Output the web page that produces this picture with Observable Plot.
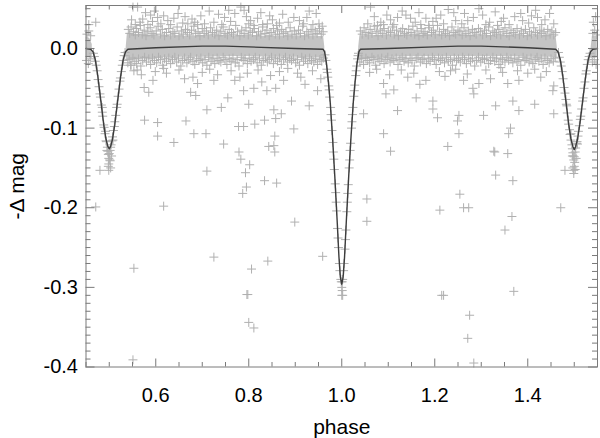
<!DOCTYPE html>
<html><head><meta charset="utf-8">
<script src="https://cdn.jsdelivr.net/npm/d3@7"></script>
<script src="https://cdn.jsdelivr.net/npm/@observablehq/plot@0.6"></script>
<style>html,body{margin:0;padding:0;background:#fff;}</style>
</head><body><div id="chart"></div>
<script>
// ---- model light curve (phase, -Δmag) ----
const modelPhase = [0.450,0.460,0.465,0.470,0.475,0.482,0.488,0.493,0.497,0.500,0.503,0.507,0.512,0.518,0.525,0.530,0.535,0.540,
  0.60,0.70,0.75,0.80,0.90,0.960,0.963,0.967,0.971,0.975,0.980,0.985,0.990,0.994,0.997,1.000,1.003,1.006,1.010,1.015,1.020,1.025,1.029,1.033,1.037,1.040,
  1.10,1.20,1.25,1.30,1.40,1.460,1.465,1.470,1.475,1.482,1.488,1.493,1.497,1.500,1.503,1.507,1.512,1.518,1.525,1.530,1.535,1.540,1.55];
const modelMag = [0.000,-0.001,-0.004,-0.014,-0.033,-0.066,-0.095,-0.114,-0.123,-0.126,-0.123,-0.114,-0.095,-0.066,-0.033,-0.014,-0.004,-0.001,
  0.001,0.003,0.003,0.002,0.000,-0.001,-0.004,-0.018,-0.040,-0.066,-0.110,-0.160,-0.215,-0.262,-0.287,-0.296,-0.287,-0.262,-0.215,-0.160,-0.110,-0.066,-0.040,-0.018,-0.004,-0.001,
  0.000,0.002,0.003,0.003,0.001,-0.001,-0.004,-0.014,-0.033,-0.066,-0.095,-0.114,-0.123,-0.127,-0.123,-0.114,-0.095,-0.066,-0.033,-0.014,-0.004,-0.001,0.000];

// ---- dense core of the observations (envelope) ----
const bandSeg   = [1,1,1, 2,2,2,2,2,2,2,2,2,2,2,2,2, 3,3,3,3,3,3,3,3,3,3,3,3, 4,4,4];
const bandPhase = [0.4505,0.458,0.4635, 0.5365,0.539,0.55,0.60,0.65,0.70,0.75,0.80,0.85,0.90,0.95,0.961,0.9635,
  1.0365,1.039,1.10,1.15,1.20,1.25,1.30,1.35,1.40,1.45,1.461,1.4635, 1.5365,1.539,1.5495];
const bandHi = [0.014,0.013,0.005, 0.002,0.019,0.018,0.016,0.015,0.016,0.016,0.016,0.015,0.015,0.015,0.015,0.002,
  0.002,0.016,0.016,0.017,0.017,0.017,0.016,0.016,0.016,0.016,0.015,0.002, 0.002,0.015,0.015];
const bandLo = [-0.012,-0.012,-0.013, -0.016,-0.016,-0.014,-0.012,-0.011,-0.011,-0.010,-0.010,-0.011,-0.011,-0.012,-0.013,-0.011,
  -0.011,-0.014,-0.011,-0.010,-0.010,-0.010,-0.010,-0.010,-0.011,-0.011,-0.012,-0.011, -0.013,-0.013,-0.012];

// ---- individual observations, [phase*1000, mag*1000] ----
const eclipsePts = [[964,-8],[966,-15],[968,-26],[969,-30],[970,-36],[972,-47],[973,-52],[974,-61],[976,-74],[977,-83],[978,-90],[979,-103],[981,-118],[982,-130],[983,-139],[984,-152],[986,-170],[987,-181],[988,-193],[989,-204],[991,-226],[992,-238],[993,-250],[995,-270],[996,-279],[998,-290],[999,-293],[1000,-300],[1001,-304],[1000,-310],[1001,-293],[1002,-290],[1004,-279],[1005,-270],[1007,-252],[1008,-240],[1009,-228],[1011,-205],[1012,-193],[1013,-182],[1014,-171],[1016,-150],[1017,-140],[1018,-128],[1019,-119],[1021,-100],[1022,-92],[1023,-83],[1024,-74],[1026,-60],[1027,-53],[1028,-46],[1030,-34],[1031,-28],[1032,-22],[1034,-13],[1035,-9],[1036,-6],
  [466,-6],[468,-10],[470,-16],[472,-21],[474,-28],[476,-39],[478,-48],[480,-57],[481,-61],[483,-71],[485,-80],[486,-85],[488,-96],[489,-99],[491,-107],[493,-116],[494,-117],[496,-124],[497,-129],[498,-133],[499,-138],[500,-132],[501,-140],[499,-145],[502,-128],[503,-124],[504,-121],[506,-116],[507,-111],[509,-103],[511,-98],[512,-92],[514,-84],[516,-74],[517,-70],[519,-60],[521,-51],[523,-41],[524,-37],[526,-29],[528,-21],[530,-15],[532,-9],[534,-5],[492,-104],[508,-115],[485,-74],[505,-135],[498,-148],[503,-150],[495,-128],[502,-141],
  [1466,-5],[1468,-11],[1470,-17],[1472,-22],[1474,-29],[1476,-38],[1478,-49],[1480,-56],[1482,-64],[1483,-70],[1485,-81],[1487,-90],[1488,-95],[1490,-102],[1491,-108],[1493,-115],[1495,-121],[1496,-126],[1497,-131],[1498,-135],[1499,-140],[1500,-136],[1501,-143],[1500,-148],[1502,-130],[1503,-125],[1505,-119],[1506,-117],[1508,-110],[1509,-104],[1511,-97],[1513,-89],[1514,-85],[1516,-76],[1518,-66],[1519,-62],[1521,-50],[1523,-42],[1525,-32],[1526,-28],[1528,-20],[1530,-14],[1532,-10],[1534,-6],[1493,-107],[1507,-120],[1484,-72],[1504,-138],[1497,-150],[1502,-152],[1496,-135],[1499,-157]];

const edgeUpper = [[452,18],[456,22],[460,16],[541,24],[544,19],[547,27],[552,21],[556,17],[559,25],[563,20],[567,29],[571,18],[575,23],[579,16],[583,21],[588,26],[592,19],[596,17],[601,22],[605,28],[610,18],[614,24],[619,16],[623,20],[628,25],[632,17],[637,21],[641,19],[646,27],[650,16],[655,22],[659,18],[664,24],[668,20],[673,17],[677,23],[682,28],[686,19],[691,21],[695,16],[700,25],[704,19],[709,22],[713,17],[718,26],[722,20],[727,18],[731,23],[736,16],[740,21],[745,27],[749,19],[754,17],[758,24],[763,20],[767,18],[772,29],[776,21],[781,16],[785,23],[790,19],[794,26],[799,17],[803,22],[808,20],[812,25],[817,16],[821,21],[826,18],[830,27],[835,19],[839,23],[844,16],[848,20],[853,25],[857,18],[862,22],[866,17],[871,24],[875,19],[880,21],[884,16],[889,26],[893,18],[898,22],[902,17],[907,23],[911,19],[916,28],[920,16],[925,21],[929,18],[934,24],[938,17],[943,22],[947,19],[952,25],[956,18],[960,21],
  [1040,22],[1044,18],[1048,26],[1052,20],[1057,17],[1061,24],[1065,19],[1070,28],[1074,21],[1078,16],[1083,23],[1087,19],[1091,25],[1096,17],[1100,22],[1105,20],[1109,27],[1113,18],[1118,23],[1122,16],[1127,21],[1131,25],[1135,19],[1140,17],[1144,24],[1149,20],[1153,28],[1157,18],[1162,22],[1166,16],[1171,25],[1175,19],[1179,21],[1184,17],[1188,26],[1193,20],[1197,23],[1201,18],[1206,29],[1210,21],[1215,17],[1219,24],[1223,19],[1228,22],[1232,16],[1237,27],[1241,20],[1245,18],[1250,23],[1254,21],[1259,17],[1263,26],[1267,19],[1272,22],[1276,16],[1281,24],[1285,20],[1289,18],[1294,25],[1298,21],[1303,17],[1307,23],[1311,19],[1316,27],[1320,16],[1325,22],[1329,20],[1333,18],[1338,24],[1342,17],[1347,21],[1351,26],[1355,19],[1360,16],[1364,23],[1369,20],[1373,18],[1377,25],[1382,17],[1386,22],[1391,19],[1395,24],[1399,16],[1404,21],[1408,18],[1413,26],[1417,20],[1421,17],[1426,23],[1430,19],[1435,21],[1439,16],[1443,24],[1448,18],[1452,22],[1456,17],[1460,20],[1540,19],[1544,23],[1548,17]];

const edgeLower = [[451,-15],[455,-19],[459,-13],[540,-18],[543,-14],[547,-21],[551,-12],[555,-16],[559,-19],[563,-13],[568,-22],[572,-15],[576,-11],[580,-17],[585,-13],[589,-20],[593,-12],[597,-15],[602,-18],[606,-11],[610,-14],[615,-21],[619,-13],[623,-16],[628,-12],[632,-19],[636,-14],[641,-11],[645,-17],[649,-13],[654,-22],[658,-15],[662,-12],[667,-18],[671,-14],[675,-11],[680,-16],[684,-20],[688,-13],[693,-15],[697,-12],[701,-18],[706,-14],[710,-21],[714,-11],[719,-16],[723,-13],[727,-19],[732,-12],[736,-15],[740,-17],[745,-11],[749,-14],[753,-20],[758,-13],[762,-16],[766,-12],[771,-18],[775,-14],[779,-22],[784,-11],[788,-15],[792,-13],[797,-19],[801,-12],[805,-16],[810,-14],[814,-11],[818,-18],[823,-13],[827,-21],[831,-15],[836,-12],[840,-17],[844,-14],[849,-11],[853,-19],[857,-13],[862,-16],[866,-12],[870,-20],[875,-14],[879,-11],[883,-17],[888,-13],[892,-15],[896,-12],[901,-18],[905,-14],[909,-21],[914,-11],[918,-16],[922,-13],[927,-19],[931,-12],[935,-15],[940,-17],[944,-13],[948,-20],[953,-14],[957,-16],[961,-12],
  [1039,-17],[1043,-13],[1047,-20],[1052,-12],[1056,-15],[1060,-18],[1065,-11],[1069,-14],[1073,-21],[1078,-13],[1082,-16],[1086,-12],[1091,-19],[1095,-14],[1099,-11],[1104,-17],[1108,-13],[1112,-15],[1117,-12],[1121,-20],[1125,-14],[1130,-11],[1134,-16],[1138,-13],[1143,-18],[1147,-12],[1151,-15],[1156,-22],[1160,-13],[1164,-11],[1169,-17],[1173,-14],[1177,-12],[1182,-19],[1186,-13],[1190,-16],[1195,-11],[1199,-14],[1203,-20],[1208,-12],[1212,-15],[1216,-13],[1221,-18],[1225,-11],[1229,-16],[1234,-14],[1238,-21],[1242,-12],[1247,-15],[1251,-13],[1255,-17],[1260,-11],[1264,-14],[1268,-19],[1273,-12],[1277,-16],[1281,-13],[1286,-22],[1290,-15],[1294,-11],[1299,-17],[1303,-13],[1307,-14],[1312,-12],[1316,-19],[1320,-15],[1325,-11],[1329,-16],[1333,-13],[1338,-20],[1342,-12],[1346,-14],[1351,-17],[1355,-11],[1359,-15],[1364,-13],[1368,-18],[1372,-12],[1377,-16],[1381,-14],[1385,-21],[1390,-11],[1394,-15],[1398,-13],[1403,-17],[1407,-12],[1411,-19],[1416,-14],[1420,-11],[1424,-16],[1429,-13],[1433,-20],[1437,-12],[1442,-15],[1446,-18],[1450,-13],[1455,-16],[1459,-12],[1539,-17],[1543,-14],[1547,-20]];

const sparseUpper = [[551,52],[561,52],[578,45],[589,42],[604,39],[626,35],[639,38],[669,31],[658,32],[583,30],[611,31],[690,30],[705,31],[725,33],[735,43],[761,34],[783,52],[790,48],[804,35],[811,29],[819,38],[830,30],[840,31],[860,29],[897,39],[925,39],[951,31],[548,36],[566,33],[597,47],[617,41],[648,44],[678,37],[697,41],[715,47],[748,39],[770,44],[795,40],[826,45],[851,36],[873,43],[885,33],[909,35],[938,30],[945,44],[471,33],[456,30],[556,30],[572,37],[593,34],[632,30],[663,40],[684,33],[742,30],[757,48],[800,31],[845,41],[866,32],[918,31],[930,47],[958,28],
  [1056,31],[1062,52],[1077,29],[1090,30],[1097,42],[1084,33],[1120,39],[1138,42],[1148,38],[1166,45],[1181,38],[1187,29],[1213,42],[1241,45],[1245,35],[1271,35],[1295,50],[1303,42],[1335,29],[1348,38],[1385,44],[1389,35],[1417,48],[1421,39],[1456,31],[1219,31],[1170,30],[1105,36],[1130,47],[1158,33],[1196,34],[1229,49],[1258,31],[1283,39],[1318,33],[1330,46],[1360,30],[1372,40],[1402,32],[1437,36],[1447,44],[1070,40],[1112,30],[1203,38],[1264,44],[1310,30],[1343,34],[1408,41],[1430,30],[1541,33],[1546,40]];

const sparseLower = [[546,-21],[553,-28],[594,-40],[575,-49],[585,-55],[617,-25],[680,-36],[690,-44],[675,-55],[686,-59],[576,-90],[604,-93],[604,-110],[639,-118],[665,-91],[682,-107],[708,-107],[746,-120],[778,-98],[789,-98],[813,-95],[834,-90],[854,-77],[858,-88],[856,-110],[854,-122],[843,-123],[779,-130],[897,-101],[710,-77],[892,-66],[839,-53],[755,-62],[725,-40],[770,-40],[789,-53],[811,-50],[858,-50],[875,-40],[912,-36],[948,-53],[560,-27],[569,-33],[599,-29],[623,-31],[650,-27],[662,-38],[700,-30],[716,-26],[733,-33],[762,-28],[781,-36],[797,-31],[820,-27],[828,-42],[847,-34],[866,-29],[884,-25],[905,-31],[921,-45],[937,-28],[955,-38],[741,-74],[800,-70],[870,-82],[930,-72],
  [1090,-44],[1095,-57],[1112,-52],[1090,-107],[1120,-78],[1047,-82],[1142,-36],[1181,-40],[1234,-28],[1262,-40],[1282,-50],[1284,-57],[1295,-44],[1342,-24],[1346,-30],[1357,-44],[1378,-28],[1381,-40],[1456,-47],[1454,-53],[1196,-66],[1196,-76],[1206,-87],[1252,-84],[1249,-91],[1331,-72],[1368,-66],[1381,-78],[1305,-84],[1252,-107],[1363,-100],[1359,-107],[1228,-123],[1327,-129],[1357,-132],[1456,-82],[1105,-129],[1060,-30],[1075,-26],[1103,-33],[1128,-27],[1155,-31],[1168,-45],[1210,-29],[1222,-35],[1245,-26],[1270,-32],[1310,-27],[1320,-38],[1400,-31],[1415,-26],[1428,-36],[1440,-29],[1160,-62],[1415,-70]];

const outlierPts = [[480,-153],[499,-153],[617,-198],[553,-276],[471,-199],[551,-391],[796,-309],[800,-344],[811,-351],[1002,-310],[1219,-310],[1275,-335],[1271,-364],[1284,-395],[1370,-305],[1329,-130],[1331,-159],[1368,-166],[1254,-183],[1211,-203],[1262,-200],[1273,-200],[1366,-211],[1351,-228],[1471,-200],[1215,-310],[1480,-153],[1499,-153],[710,-154],[783,-139],[802,-146],[793,-156],[795,-174],[787,-182],[834,-166],[860,-169],[856,-130],[899,-218],[725,-262],[806,-277],[841,-267],[959,-261],[798,-309],[1054,-189],[1054,-217]];

// ---- axes ----
const xMajor = [0.6, 0.8, 1.0, 1.2, 1.4];
const xMinor = [0.45,0.5,0.55,0.65,0.7,0.75,0.85,0.9,0.95,1.05,1.1,1.15,1.25,1.3,1.35,1.45,1.5,1.55];
const yMajor = [0.0, -0.1, -0.2, -0.3, -0.4];
const yMinor = d3.range(-40, 6).map(i => i / 100).filter(v => Math.abs(v * 10 - Math.round(v * 10)) > 1e-6);

const model = modelPhase.map((p, i) => ({phase: p, mag: modelMag[i]}));
const band = bandPhase.map((p, i) => ({phase: p, hi: bandHi[i], lo: bandLo[i], seg: bandSeg[i]}));
const toPt = ([p, m]) => ({phase: p / 1000, mag: m / 1000});
const pts = [...edgeUpper, ...edgeLower, ...sparseUpper, ...sparseLower, ...outlierPts, ...eclipsePts].map(toPt);

const mL = 85.5, mR = 3, mT = 5, mB = 71.5, W = 600, H = 438;
const iw = W - mL - mR, ih = H - mT - mB;
const axisColor = "#7a7a7a";

const chart = Plot.plot({
  width: W, height: H,
  marginLeft: mL, marginRight: mR, marginTop: mT, marginBottom: mB,
  x: {domain: [0.45, 1.55]},
  y: {domain: [-0.4, 0.054]},
  style: {fontFamily: "'Liberation Sans', Arial, Helvetica, sans-serif", background: "#fff", color: "#000"},
  marks: [
    Plot.areaY(band, {x: "phase", y1: "lo", y2: "hi", z: "seg", fill: "#c4c4c4", curve: "linear"}),
    Plot.dot(pts, {x: "phase", y: "mag", symbol: "plus", r: 3, stroke: "#b0b0b0", strokeWidth: 1}),
    Plot.line(model, {x: "phase", y: "mag", stroke: "#3c3c3c", strokeWidth: 1.4}),
    Plot.frame({stroke: axisColor}),
    // inward ticks on all four sides
    Plot.tickX(xMajor, {x: d => d, insetTop: ih - 8, stroke: axisColor}),
    Plot.tickX(xMajor, {x: d => d, insetBottom: ih - 8, stroke: axisColor}),
    Plot.tickX(xMinor, {x: d => d, insetTop: ih - 4.5, stroke: axisColor}),
    Plot.tickX(xMinor, {x: d => d, insetBottom: ih - 4.5, stroke: axisColor}),
    Plot.tickY(yMajor, {y: d => d, insetRight: iw - 9, stroke: axisColor}),
    Plot.tickY(yMajor, {y: d => d, insetLeft: iw - 9, stroke: axisColor}),
    Plot.tickY(yMinor, {y: d => d, insetRight: iw - 5, stroke: axisColor}),
    Plot.tickY(yMinor, {y: d => d, insetLeft: iw - 5, stroke: axisColor}),
    Plot.axisX({ticks: xMajor, tickSize: 0, tickPadding: 21, tickFormat: d => d.toFixed(1), fontSize: 20, label: null}),
    Plot.axisY({ticks: yMajor, tickSize: 0, tickPadding: 8, tickFormat: d => d.toFixed(1), fontSize: 20, label: null}),
    Plot.text(["-Δ mag"], {frameAnchor: "left", dx: -69, rotate: -90, textAnchor: "middle", lineAnchor: "middle", fontSize: 21, fill: "#000"}),
    Plot.text(["phase"], {frameAnchor: "bottom", dy: 60, textAnchor: "middle", lineAnchor: "middle", fontSize: 21, fill: "#000"})
  ]
});
document.getElementById("chart").appendChild(chart);
</script>
</body></html>
